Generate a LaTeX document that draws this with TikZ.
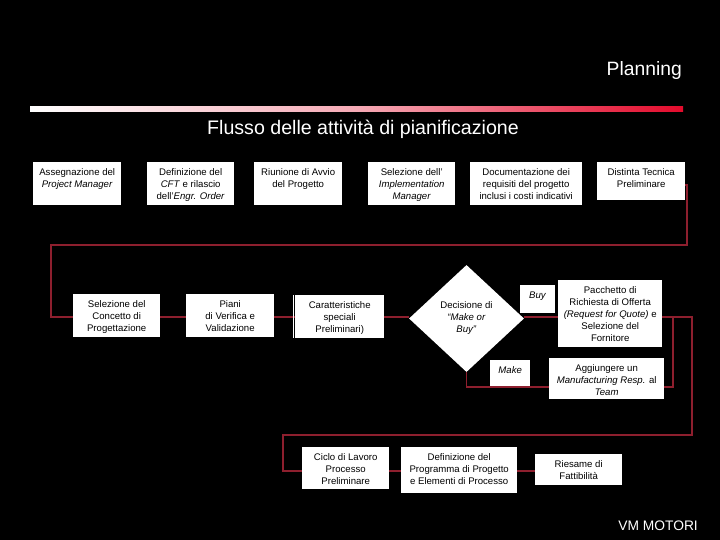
\documentclass[tikz,border=0pt]{standalone}
\usepackage{fontspec}
\setmainfont{Liberation Sans}
\usetikzlibrary{shapes.geometric}
\definecolor{linered}{HTML}{8E1F2E}
\definecolor{barred}{HTML}{E30B2C}
\newcommand{\bxt}[3]{\parbox[c][#2pt][t]{#1pt}{\centering\fontsize{9.6}{12}\selectfont\vspace*{6.2pt}#3\par}}
\tikzset{
  flowbox/.style={fill=white,text=black,inner sep=0pt,anchor=north west},
  flowline/.style={draw=linered,line width=1.1pt,line join=miter},
  chooser/.style={diamond,fill=white,text=black,inner sep=0pt,minimum width=115pt,minimum height=107pt},
  headtext/.style={text=white,inner sep=0pt}
}
\begin{document}
\begin{tikzpicture}[x=1pt,y=-1pt]
\useasboundingbox (0,0) rectangle (720,540);
\fill[black] (0,0) rectangle (720,540);
% header
\node[headtext,anchor=east,font=\fontsize{19.3}{22}\selectfont] (planning) at (682,70.5) {Planning};
\shade[left color=white,right color=barred,middle color=white!65!barred] (30,107) rectangle (683,112);
\node[headtext,anchor=center,font=\fontsize{19.6}{22}\selectfont] (title) at (363,129) {Flusso delle attività di pianificazione};
\node[headtext,anchor=east,font=\fontsize{13.8}{16}\selectfont] (brand) at (698,526) {VM MOTORI};
% row 1
\node[flowbox] (a1) at (33,162) {\bxt{88}{43}{Assegnazione del\\\textit{Project Manager}}};
\node[flowbox] (a2) at (147,162) {\bxt{87}{43}{Definizione del\\\textit{CFT} e rilascio\\dell'\textit{Engr. Order}}};
\node[flowbox] (a3) at (254,162) {\bxt{88}{43}{Riunione di Avvio\\del Progetto}};
\node[flowbox] (a4) at (368,162) {\bxt{87}{43}{Selezione dell'\\\textit{Implementation}\\\textit{Manager}}};
\node[flowbox] (a5) at (470,162) {\bxt{112}{43}{Documentazione dei\\requisiti del progetto\\inclusi i costi indicativi}};
\node[flowbox] (a6) at (597,162) {\bxt{88}{38}{Distinta Tecnica\\Preliminare}};
% row 2
\node[flowbox] (b1) at (73,294) {\bxt{87}{43}{Selezione del\\Concetto di\\Progettazione}};
\node[flowbox] (b2) at (186,294) {\bxt{88}{43}{Piani\\di Verifica e\\Validazione}};
\node[flowbox] (b3) at (295,295) {\bxt{89}{43}{Caratteristiche\\speciali\\Preliminari)}};
\node[chooser] (dec) at (466.5,318.5) {\raisebox{-1.5pt}{\parbox{60pt}{\centering\fontsize{9.6}{12}\selectfont Decisione di\\\textit{“Make or}\\\textit{Buy”}}}};
\node[flowbox] (buy) at (520,285) {\bxt{35}{28}{\textit{Buy}}};
\node[flowbox] (rfq) at (558,280) {\bxt{104}{67}{Pacchetto di\\Richiesta di Offerta\\\textit{(Request for Quote)} e\\Selezione del\\Fornitore}};
\node[flowbox] (mk) at (490,360) {\bxt{40}{27}{\textit{Make}}};
\node[flowbox] (agg) at (549,358) {\bxt{115}{41}{Aggiungere un\\\textit{Manufacturing Resp.} al\\\textit{Team}}};
% row 3
\node[flowbox] (c1) at (302,447) {\bxt{87}{42}{Ciclo di Lavoro\\Processo\\Preliminare}};
\node[flowbox] (c2) at (401,447) {\bxt{116}{46}{Definizione del\\Programma di Progetto\\e Elementi di Processo}};
\node[flowbox] (c3) at (535,454) {\bxt{87}{31}{Riesame di\\Fattibilità}};
% guide coordinates for the routes
\coordinate (ya6) at (0,185);
\coordinate (xa6) at (687,0);
\coordinate (ywrap1) at (0,245);
\coordinate (xwrap1) at (51,0);
\coordinate (yrow2) at (0,317);
\coordinate (ymake) at (0,387);
\coordinate (xjoin) at (673,0);
\coordinate (xwrap2) at (692,0);
\coordinate (ywrap2) at (0,435);
\coordinate (xwrap3) at (283,0);
\coordinate (yrow3) at (0,471);
% connectors
\draw[flowline] (a6.east |- ya6) -- (xa6 |- ya6) -- (xa6 |- ywrap1) -- (xwrap1 |- ywrap1) -- (xwrap1 |- yrow2) -- (b1.west |- yrow2);
\draw[flowline] (b1.east |- yrow2) -- (b2.west |- yrow2);
\draw[flowline] (b2.east |- yrow2) -- (b3.west |- yrow2);
\draw[flowline] (b3.east |- yrow2) -- (dec.west |- yrow2);
\draw[flowline] (dec.east |- yrow2) -- (rfq.west |- yrow2);
\draw[flowline] (rfq.east |- yrow2) -- (xwrap2 |- yrow2) -- (xwrap2 |- ywrap2) -- (xwrap3 |- ywrap2) -- (xwrap3 |- yrow3) -- (c1.west |- yrow3);
\draw[flowline] (dec.south) -- (dec.south |- ymake) -- (agg.west |- ymake);
\draw[flowline] (agg.east |- ymake) -- (xjoin |- ymake) -- (xjoin |- yrow2);
\draw[flowline] (c1.east |- yrow3) -- (c2.west |- yrow3);
\draw[flowline] (c2.east |- yrow3) -- (c3.west |- yrow3);
\draw[white,line width=0.8pt] (b3.north west) ++(-1.5,0) coordinate (tick) -- (tick |- b3.south west);
\end{tikzpicture}
\end{document}
